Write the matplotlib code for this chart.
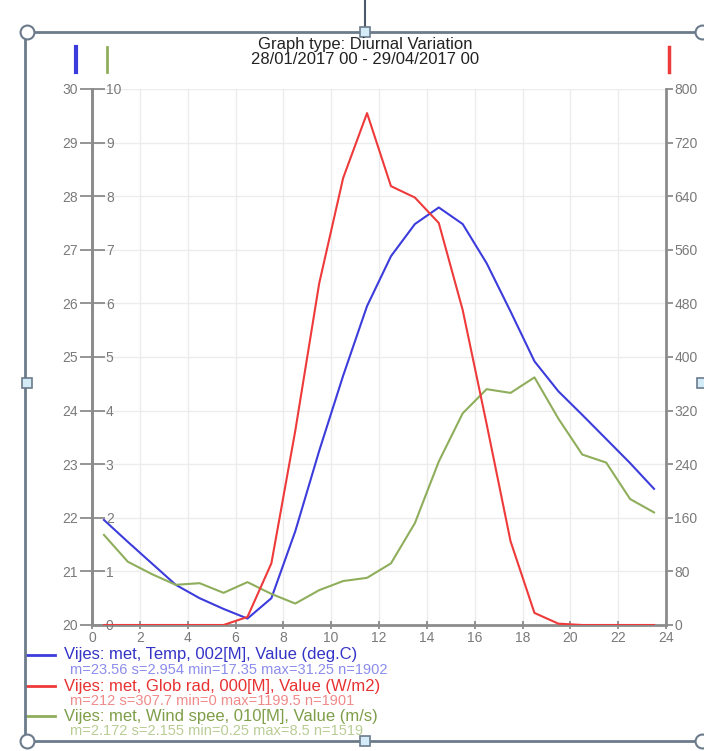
import matplotlib
matplotlib.use("Agg")
import matplotlib.pyplot as plt
from matplotlib.lines import Line2D

plt.rcParams['font.family'] = ['Liberation Sans', 'DejaVu Sans']

# diurnal means, one value per half hour mark
hours = [0.5, 1.5, 2.5, 3.5, 4.5, 5.5, 6.5, 7.5, 8.5, 9.5, 10.5, 11.5,
         12.5, 13.5, 14.5, 15.5, 16.5, 17.5, 18.5, 19.5, 20.5, 21.5, 22.5, 23.5]
temp = [21.96, 21.55, 21.15, 20.75, 20.5, 20.3, 20.12, 20.5, 21.75, 23.25, 24.65, 25.95,
        26.88, 27.48, 27.79, 27.48, 26.75, 25.85, 24.92, 24.36, 23.92, 23.47, 23.02, 22.54]
glob_rad = [0, 0, 0, 0, 0, 0, 12, 92, 290, 510, 667, 764,
            655, 638, 600, 470, 300, 125, 18, 2, 0, 0, 0, 0]
wind = [1.68, 1.18, 0.95, 0.75, 0.78, 0.6, 0.8, 0.58, 0.4, 0.65, 0.82, 0.88,
        1.15, 1.9, 3.05, 3.95, 4.4, 4.33, 4.62, 3.85, 3.18, 3.03, 2.35, 2.1]

x_ticks = [0, 2, 4, 6, 8, 10, 12, 14, 16, 18, 20, 22, 24]
temp_ticks = [20, 21, 22, 23, 24, 25, 26, 27, 28, 29, 30]
wind_ticks = [0, 1, 2, 3, 4, 5, 6, 7, 8, 9, 10]
rad_ticks = [0, 80, 160, 240, 320, 400, 480, 560, 640, 720, 800]

title_lines = ["Graph type: Diurnal Variation", "28/01/2017 00 - 29/04/2017 00"]
legend_names = ["Vijes: met, Temp, 002[M], Value (deg.C)",
                "Vijes: met, Glob rad, 000[M], Value (W/m2)",
                "Vijes: met, Wind spee, 010[M], Value (m/s)"]
legend_stats = ["m=23.56 s=2.954 min=17.35 max=31.25 n=1902",
                "m=212 s=307.7 min=0 max=1199.5 n=1901",
                "m=2.172 s=2.155 min=0.25 max=8.5 n=1519"]

BLUE = '#3c3cdc'
RED = '#ee3a3a'
GREEN = '#8fae5c'
SPINE = '#8c8c8c'
TICKTXT = '#7a7a7a'
FRAME = '#6b7b8b'

W, H = 704, 751
fig = plt.figure(figsize=(W / 100, H / 100), dpi=100)

def fx(x):
    return x / W

def fy(y):
    return 1 - y / H

ax = fig.add_axes([fx(92), fy(625), fx(666) - fx(92), fy(89) - fy(625)])
ax_w = ax.twinx()
ax_r = ax.twinx()

ax.plot(hours, temp, color=BLUE, lw=1.5, zorder=3)
ax_r.plot(hours, glob_rad, color=RED, lw=1.5)
ax_w.plot(hours, wind, color=GREEN, lw=1.5)

ax.set_xlim(0, 24)
ax.set_ylim(20, 30)
ax_w.set_ylim(0, 10)
ax_r.set_ylim(0, 800)
ax.set_xticks(x_ticks)
ax.set_yticks(temp_ticks)
ax_w.set_yticks(wind_ticks)
ax_r.set_yticks(rad_ticks)

ax.grid(True, color='#ececec', lw=1)
ax.set_axisbelow(True)

for a in (ax, ax_w, ax_r):
    for s in a.spines.values():
        s.set_visible(False)
ax.spines['left'].set_visible(True)
ax.spines['bottom'].set_visible(True)
ax_r.spines['right'].set_visible(True)
ax_w.spines['right'].set_visible(True)
ax_w.spines['right'].set_position(('axes', 0))
for s in (ax.spines['left'], ax.spines['bottom'], ax_r.spines['right'], ax_w.spines['right']):
    s.set_color(SPINE)
    s.set_linewidth(2)

ax.tick_params(axis='y', direction='out', length=9, width=1.3, color=SPINE,
               labelsize=10, labelcolor=TICKTXT, pad=1)
ax_w.tick_params(axis='y', direction='out', length=9, width=1.3, color=SPINE,
                 labelsize=10, labelcolor=TICKTXT, pad=1)
ax_r.tick_params(axis='y', direction='out', length=5, width=1.3, color=SPINE,
                 labelsize=10, labelcolor=TICKTXT, pad=1)
ax.tick_params(axis='x', direction='inout', length=6, width=1.3, color=SPINE,
               labelsize=10, labelcolor=TICKTXT, pad=1)

# title
fig.text(fx(365), fy(44), title_lines[0], ha='center', va='center', fontsize=12, color='#222222')
fig.text(fx(365), fy(59), title_lines[1], ha='center', va='center', fontsize=12, color='#222222')

# axis colour markers
for xm, c, lw in ((76, BLUE, 3), (107, GREEN, 2), (669, RED, 2.5)):
    fig.add_artist(Line2D([fx(xm), fx(xm)], [fy(47), fy(72)], color=c, lw=lw,
                          transform=fig.transFigure))

# legend drawn below the plot
colors = [BLUE, RED, GREEN]
name_cols = ['#3434c8', '#e83232', '#7f9e48']
stat_cols = ['#8c8cec', '#f08a8a', '#b8cc94']
rows = [(655, 670), (686, 701), (716, 731)]
for i in range(3):
    y1, y2 = rows[i]
    fig.add_artist(Line2D([fx(27), fx(55)], [fy(y1), fy(y1)], color=colors[i], lw=2,
                          transform=fig.transFigure))
    fig.text(fx(64), fy(y1), legend_names[i], ha='left', va='center', fontsize=12,
             color=name_cols[i])
    fig.text(fx(70), fy(y2), legend_stats[i], ha='left', va='center', fontsize=10.5,
             color=stat_cols[i])

# selection frame around the chart
def fline(xs, ys, **kw):
    fig.add_artist(Line2D([fx(v) for v in xs], [fy(v) for v in ys],
                          transform=fig.transFigure, clip_on=False, **kw))

fline([25, 704], [32, 32], color=FRAME, lw=2)
fline([25, 25], [32, 741], color=FRAME, lw=2)
fline([25, 704], [741, 741], color=FRAME, lw=2)
fline([365, 365], [0, 27], color='#4a5a6a', lw=1.5)
for xc, yc in ((27, 32), (702, 32), (27, 741), (702, 741)):
    fline([xc], [yc], marker='o', markersize=10, mfc='white', mec=FRAME, mew=1.5)
for xc, yc in ((365, 32), (27, 383), (365, 741), (702, 383)):
    fline([xc], [yc], marker='s', markersize=7, mfc='#d4ecf7', mec=FRAME, mew=1.2)

fig.savefig("out.png", dpi=100)
